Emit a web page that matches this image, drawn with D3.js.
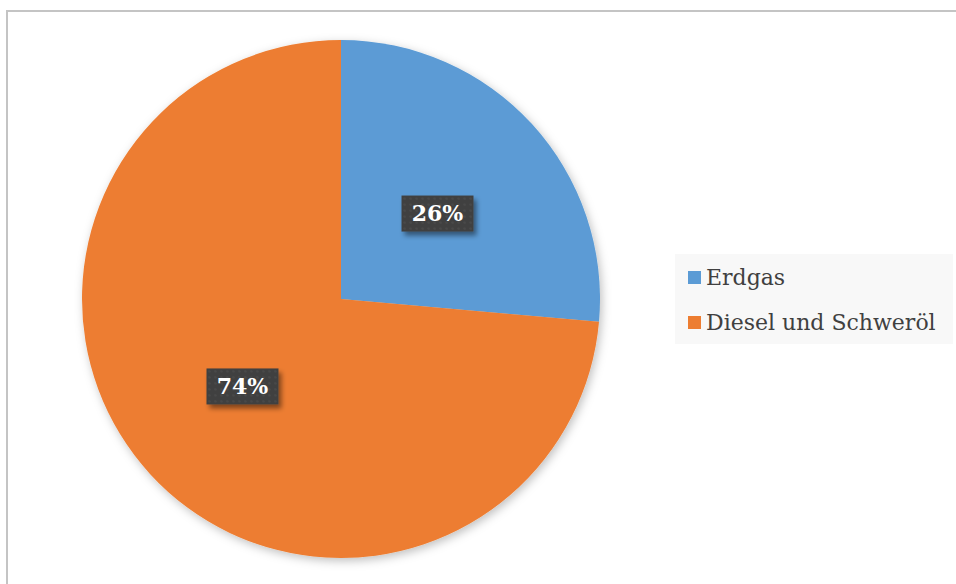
<!DOCTYPE html>
<html>
<head>
<meta charset="utf-8">
<script src="https://cdn.jsdelivr.net/npm/d3@7"></script>
<style>
  body { margin: 0; background: #fff; }
  svg { display: block; }
</style>
</head>
<body>
<svg id="chart" width="956" height="584"></svg>
<script>
// data (shares; labels are shown rounded)
const categories = ['Erdgas', 'Diesel und Schweröl'];
const values = [26.4, 73.6];
const colors = ['#5B9BD5', '#ED7D31'];

const svg = d3.select('#chart');
const defs = svg.append('defs');

// soft shadow under the pie
const pieShadow = defs.append('filter').attr('id', 'pieShadow')
	.attr('x', '-10%').attr('y', '-10%').attr('width', '120%').attr('height', '120%');
pieShadow.append('feDropShadow')
	.attr('dx', 2).attr('dy', 3).attr('stdDeviation', 5)
	.attr('flood-color', '#000').attr('flood-opacity', 0.25);

// shadow for the label boxes
const boxShadow = defs.append('filter').attr('id', 'boxShadow')
	.attr('x', '-20%').attr('y', '-20%').attr('width', '150%').attr('height', '160%');
boxShadow.append('feDropShadow')
	.attr('dx', 3).attr('dy', 4).attr('stdDeviation', 2.5)
	.attr('flood-color', '#000').attr('flood-opacity', 0.45);

// dotted pattern in the label boxes
const pat = defs.append('pattern').attr('id', 'dots')
	.attr('width', 6).attr('height', 6).attr('patternUnits', 'userSpaceOnUse');
pat.append('rect').attr('width', 6).attr('height', 6).attr('fill', '#404040');
pat.append('circle').attr('cx', 3).attr('cy', 3).attr('r', 1.3).attr('fill', '#4a4a4a');

// chart frame (only top and left edges are inside the picture)
svg.append('path')
	.attr('d', 'M7,590 L7,11 L960,11')
	.attr('fill', 'none')
	.attr('stroke', '#c4c4c4')
	.attr('stroke-width', 2);

const cx = 341, cy = 299, r = 259;
const total = d3.sum(values);
const pct = d3.format('.0%');

const pie = d3.pie().sort(null).value((d) => d.value);
const arcs = pie(categories.map((c, i) => ({ name: c, value: values[i], color: colors[i] })));
const arc = d3.arc().innerRadius(0).outerRadius(r);

const g = svg.append('g').attr('transform', `translate(${cx}, ${cy})`);

g.append('g')
	.attr('filter', 'url(#pieShadow)')
	.selectAll('path')
	.data(arcs)
	.enter()
	.append('path')
	.attr('d', arc)
	.attr('fill', (d) => d.data.color);

// data labels
const labelArc = d3.arc().innerRadius(r * 0.5).outerRadius(r * 0.5);
const labelOffsets = [[1, 2], [-3, 0]]; // small nudges to match label spots

const labels = g.selectAll('.lbl')
	.data(arcs)
	.enter()
	.append('g')
	.attr('class', 'lbl')
	.attr('transform', (d, i) => {
		const p = labelArc.centroid(d);
		return `translate(${p[0] + labelOffsets[i][0]}, ${p[1] + labelOffsets[i][1]})`;
	});

labels.append('rect')
	.attr('x', -36).attr('y', -18)
	.attr('width', 72).attr('height', 36)
	.attr('fill', 'url(#dots)')
	.attr('filter', 'url(#boxShadow)');

labels.append('text')
	.attr('text-anchor', 'middle')
	.attr('dy', '0.36em')
	.attr('fill', '#fff')
	.style('font-family', '"DejaVu Serif", serif')
	.style('font-weight', 'bold')
	.style('font-size', '22px')
	.text((d) => pct(d.data.value / total));

// legend
const legend = svg.append('g').attr('transform', 'translate(675, 254)');
legend.append('rect')
	.attr('width', 278).attr('height', 90)
	.attr('fill', '#f8f8f8');

const items = legend.selectAll('.item')
	.data(categories)
	.enter()
	.append('g')
	.attr('class', 'item')
	.attr('transform', (d, i) => `translate(13, ${23 + i * 45})`);

items.append('rect')
	.attr('x', 0).attr('y', -6)
	.attr('width', 13).attr('height', 13)
	.attr('fill', (d, i) => colors[i]);

items.append('text')
	.attr('x', 18)
	.attr('dy', '0.35em')
	.attr('fill', '#404040')
	.style('font-family', '"DejaVu Serif", serif')
	.style('font-size', '22px')
	.text((d) => d);
</script>
</body>
</html>
